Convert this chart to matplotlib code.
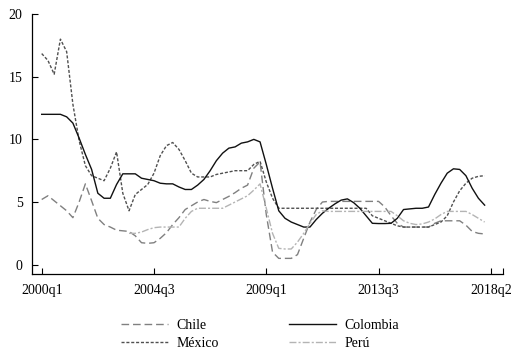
import numpy as np
import matplotlib
matplotlib.use("Agg")
import matplotlib.pyplot as plt

nan = np.nan
tick_labels = ["2000q1", "2004q3", "2009q1", "2013q3", "2018q2"]
tick_pos = [0, 18, 36, 54, 72]

colombia = [12.0, 12.0, 12.0, 12.0, 11.8, 11.3, 10.1, 8.8, 7.6, 5.7,
            5.3, 5.3, 6.4, 7.25, 7.25, 7.25, 6.9, 6.8, 6.7, 6.5,
            6.45, 6.45, 6.2, 6.0, 6.0, 6.35, 6.8, 7.5, 8.3, 8.9,
            9.3, 9.4, 9.7, 9.8, 10.0, 9.8, 8.0, 6.1, 4.3, 3.7,
            3.4, 3.2, 3.0, 3.0, 3.6, 4.1, 4.5, 4.85, 5.15, 5.25,
            4.95, 4.5, 3.9, 3.3, 3.28, 3.28, 3.3, 3.7, 4.4, 4.45,
            4.5, 4.5, 4.6, 5.6, 6.5, 7.3, 7.65, 7.6, 7.1, 6.1,
            5.3, 4.75]

mexico = [16.85, 16.3, 15.2, 18.0, 17.0, 12.8, 9.9, 7.9, 7.1, 6.9,
          6.7, 7.7, 9.0, 5.7, 4.3, 5.6, 6.0, 6.4, 7.3, 8.7,
          9.5, 9.75, 9.2, 8.3, 7.3, 7.0, 7.0, 7.0, 7.2, 7.3,
          7.4, 7.5, 7.5, 7.5, 8.0, 8.25, 6.6, 5.3, 4.5, 4.5,
          4.5, 4.5, 4.5, 4.5, 4.5, 4.5, 4.5, 4.5, 4.5, 4.5,
          4.5, 4.5, 4.5, 3.9, 3.7, 3.5, 3.3, 3.1, 3.0, 3.0,
          3.0, 3.0, 3.0, 3.2, 3.4, 3.9, 5.0, 5.9, 6.5, 6.9,
          7.05, 7.1]

chile = [5.2, 5.5, 5.1, 4.7, 4.3, 3.75, 5.0, 6.45, 5.1, 3.7,
         3.2, 3.0, 2.75, 2.7, 2.65, 2.3, 1.75, 1.7, 1.75, 2.1,
         2.55, 3.2, 3.75, 4.4, 4.7, 5.0, 5.2, 5.05, 4.95, 5.2,
         5.45, 5.75, 6.1, 6.35, 7.7, 8.2, 4.0, 1.0, 0.5, 0.5,
         0.5, 0.8, 2.1, 3.4, 4.4, 5.0, 5.05, 5.05, 5.05, 5.05,
         5.05, 5.05, 5.05, 5.05, 5.05, 4.6, 3.9, 3.3, 3.0, 3.0,
         3.0, 3.0, 3.0, 3.3, 3.5, 3.5, 3.5, 3.5, 3.15, 2.65,
         2.5, 2.45]

peru = [nan, nan, nan, nan, nan, nan, nan, nan, nan, nan,
        nan, nan, nan, nan, 2.5, 2.5, 2.6, 2.8, 2.95, 3.0,
        3.0, 3.0, 3.0, 3.7, 4.25, 4.5, 4.5, 4.5, 4.5, 4.5,
        4.75, 5.0, 5.25, 5.5, 5.95, 6.45, 4.5, 2.5, 1.3, 1.25,
        1.25, 1.8, 2.5, 3.3, 4.0, 4.3, 4.25, 4.25, 4.25, 4.25,
        4.25, 4.25, 4.25, 4.25, 4.25, 4.25, 4.25, 3.9, 3.5, 3.3,
        3.2, 3.25, 3.4, 3.65, 4.0, 4.25, 4.25, 4.25, 4.25, 4.0,
        3.7, 3.4]

plt.rcParams['font.family'] = ['Liberation Serif', 'DejaVu Serif']
plt.rcParams['font.size'] = 10
plt.rcParams['lines.scale_dashes'] = False

fig = plt.figure(figsize=(5.2, 3.62), dpi=100)
ax = fig.add_axes([0.061, 0.243, 0.907, 0.718])

x = np.arange(len(colombia))
lw = 1.0
ax.plot(x, chile, color='#808080', lw=lw, dashes=(5.5, 2.8), label='Chile')
ax.plot(x, mexico, color='#505050', lw=lw, dashes=(2.2, 1.3), label='México')
ax.plot(x, colombia, color='#111111', lw=lw, label='Colombia')
ax.plot(x, np.array(peru, dtype=float), color='#b4b4b4', lw=lw,
        dashes=(5, 1.5, 1.5, 1.5), label='Perú')

ax.set_xlim(-1.6, 74)
ax.set_ylim(-0.75, 20)
ax.set_yticks([0, 5, 10, 15, 20])
ax.set_xticks(tick_pos)
ax.set_xticklabels(tick_labels)
ax.set_xticks([74], minor=True)
for s in ['top', 'right']:
    ax.spines[s].set_visible(False)
for s in ['left', 'bottom']:
    ax.spines[s].set_linewidth(0.9)
ax.tick_params(axis='both', which='both', direction='in', length=4, width=0.8)
ax.tick_params(axis='y', pad=6.5)
ax.tick_params(axis='x', pad=7.5)

fig.legend(ncol=2, loc='center', bbox_to_anchor=(0.5, 0.076), frameon=False,
           handlelength=3.4, handletextpad=0.65, columnspacing=5.0,
           labelspacing=0.4, borderpad=0)

fig.savefig('out.png', dpi=100)
